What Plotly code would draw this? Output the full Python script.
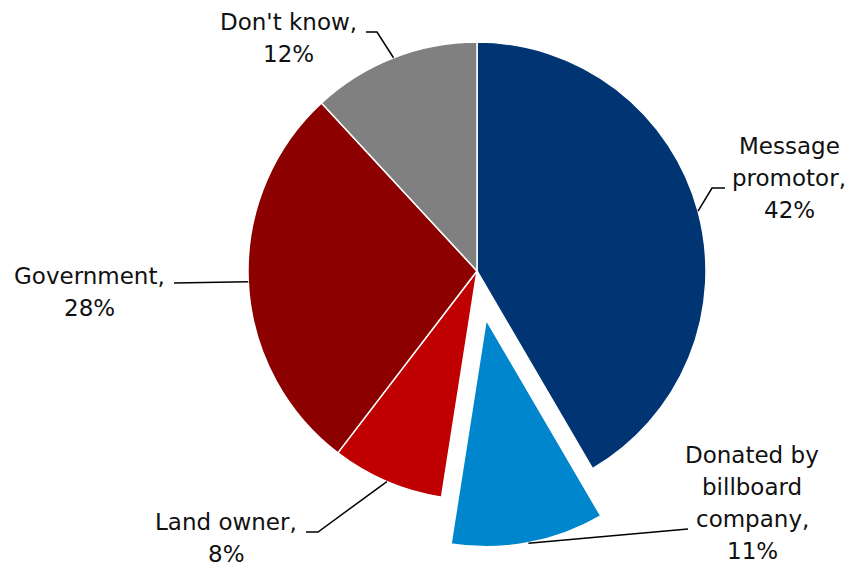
import math
import plotly.graph_objects as go

# Who paid for the billboard message (share of responses, %)
categories = ["Message promotor", "Donated by billboard company", "Land owner", "Government", "Don't know"]
shares = [42, 11, 8, 28, 12]
label_lines = [
    ["Message", "promotor,"],
    ["Donated by", "billboard", "company,"],
    ["Land owner,"],
    ["Government,"],
    ["Don't know,"],
]
colors = ["#003473", "#0086CD", "#C00000", "#8C0000", "#808080"]
exploded = 1  # index of the slice pulled out of the pie

# Canvas and pie geometry (pixels)
W, H = 852, 569
CX, CY, R = 477, 271, 229
PULL = 0.21  # pull distance as a fraction of the radius

# Label layout: (centre x, first-line y, text-side end of leader, elbow of leader)
label_layout = [
    (789, 146, (725, 188), (712, 188)),
    (752, 455, (688, 529), (688, 529)),
    (226, 522, (306, 532), (318, 532)),
    (89, 276, (174, 283), (174, 283)),
    (288, 22, (366, 32), (377, 32)),
]
LINE_GAP = 32
FONT = dict(family="DejaVu Sans", size=23, color="#111111")


def to_paper(x, y):
    return x / W, 1 - y / H


def domain_around(cx, cy, r):
    return dict(x=[(cx - r) / W, (cx + r) / W], y=[1 - (cy + r) / H, 1 - (cy - r) / H])


# Mid-angle of each slice, measured clockwise from 12 o'clock
total = sum(shares)
mids = []
acc = 0
for v in shares:
    mids.append(math.radians((acc + v / 2) / total * 360))
    acc += v

# Offset of the exploded slice along its mid-angle
pull_px = PULL * R
ex_dx = pull_px * math.sin(mids[exploded])
ex_dy = pull_px * math.cos(mids[exploded])

clear = "rgba(0,0,0,0)"
base_colors = [clear if i == exploded else c for i, c in enumerate(colors)]
base_lw = [0 if i == exploded else 1.5 for i in range(len(shares))]
top_colors = [c if i == exploded else clear for i, c in enumerate(colors)]
top_lw = [2.5 if i == exploded else 0 for i in range(len(shares))]

fig = go.Figure()
fig.add_trace(go.Pie(
    labels=categories, values=shares, sort=False, direction="clockwise", rotation=0,
    marker=dict(colors=base_colors, line=dict(color="white", width=base_lw)),
    textinfo="none", hoverinfo="skip", showlegend=False,
    domain=domain_around(CX, CY, R),
))
fig.add_trace(go.Pie(
    labels=categories, values=shares, sort=False, direction="clockwise", rotation=0,
    marker=dict(colors=top_colors, line=dict(color="white", width=top_lw)),
    textinfo="none", hoverinfo="skip", showlegend=False,
    domain=domain_around(CX + ex_dx, CY - ex_dy, R),
))

shapes = []
annotations = []
for i, (v, lines) in enumerate(zip(shares, label_lines)):
    tx, ty, start, elbow = label_layout[i]
    r_edge = R + (pull_px if i == exploded else 0)
    ex = CX + r_edge * math.sin(mids[i])
    ey = CY - r_edge * math.cos(mids[i])
    pts = [to_paper(*start), to_paper(*elbow), to_paper(ex, ey)]
    path = "M {} {} L {} {} L {} {}".format(*[c for p in pts for c in p])
    shapes.append(dict(type="path", xref="paper", yref="paper", path=path,
                       line=dict(color="black", width=1.5)))
    for k, txt in enumerate(lines + [f"{v}%"]):
        px, py = to_paper(tx, ty + k * LINE_GAP)
        annotations.append(dict(x=px, y=py, xref="paper", yref="paper", text=txt,
                                showarrow=False, xanchor="center", yanchor="middle",
                                font=FONT))

fig.update_layout(
    width=W, height=H, margin=dict(l=0, r=0, t=0, b=0),
    paper_bgcolor="white", plot_bgcolor="white",
    shapes=shapes, annotations=annotations,
)

fig.write_html("out.html")
